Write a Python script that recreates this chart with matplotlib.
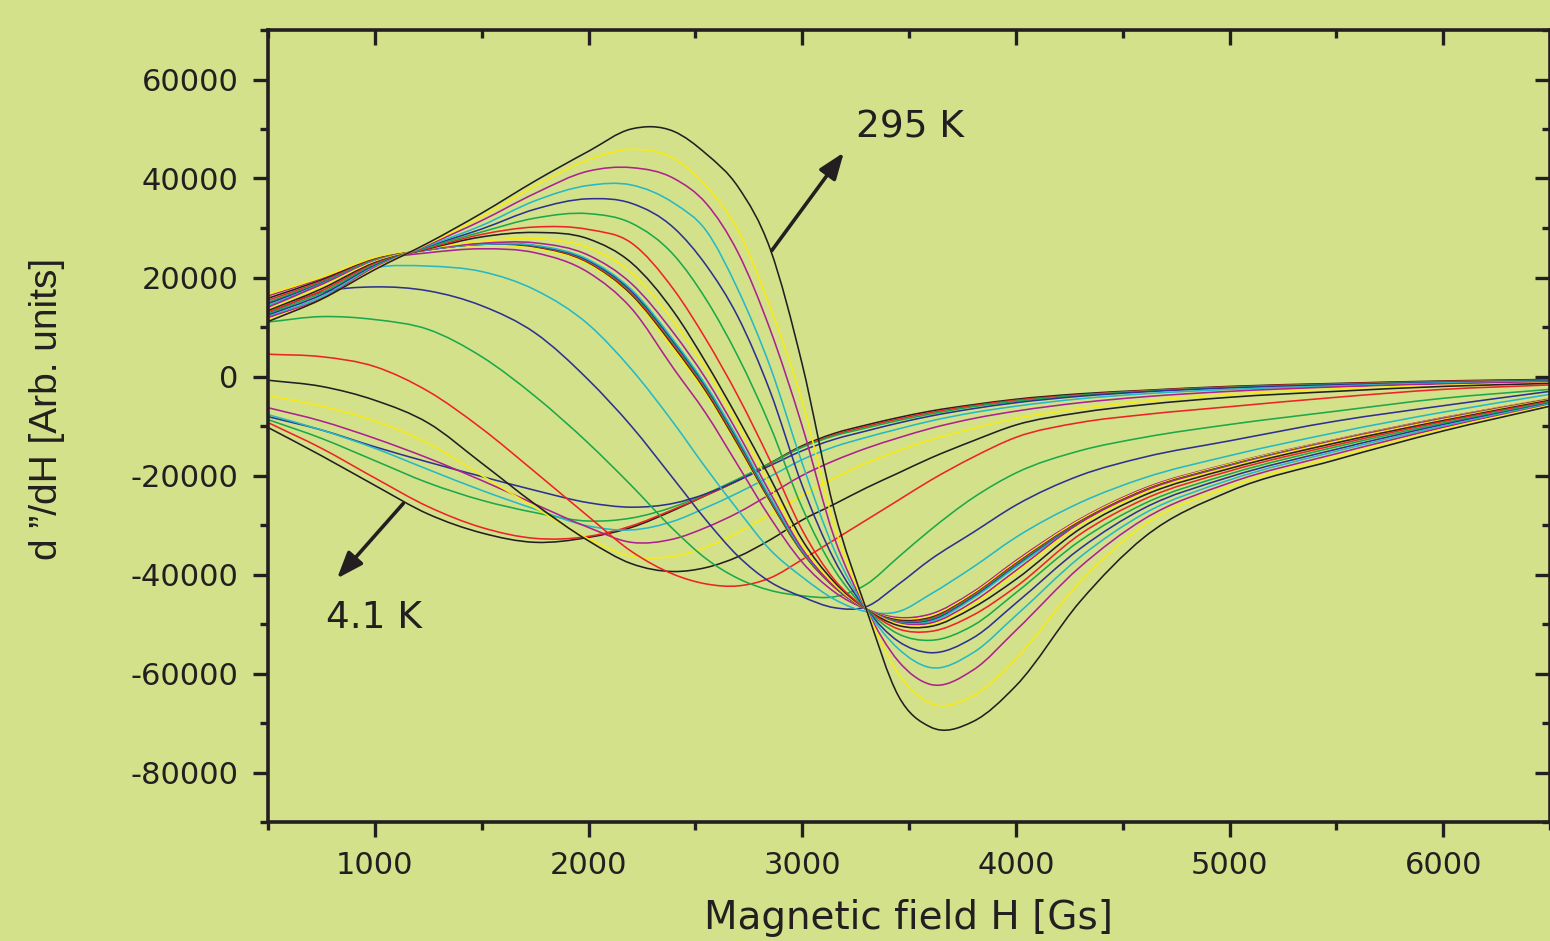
import matplotlib
matplotlib.use('Agg')
import matplotlib.pyplot as plt
from matplotlib.path import Path
from matplotlib.patches import PathPatch

plt.rcParams['axes.unicode_minus'] = False
plt.rcParams['font.family'] = ['DejaVu Sans']

# field grid [Gs], shared by all spectra
H = [500, 750, 1000, 1250, 1500, 1750, 2000, 2200, 2400, 2550, 2700, 2850,
     3000, 3150, 3300, 3450, 3600, 3800, 4000, 4300, 4600, 5000, 5500, 6000, 6500]

# spectra from 4.1 K (c01) up to 295 K (c29)
c01 = [-10300, -16000, -22000, -27800, -31600, -33500, -32500, -30500, -27000, -24000, -21000, -17500,
       -14000, -11500, -9800, -8300, -7000, -5700, -4600, -3500, -2800, -2000, -1400, -900, -600]
c02 = [-9300, -14500, -20500, -26300, -30500, -32700, -32300, -30200, -26800, -24000, -21000, -17600,
       -14200, -11800, -10100, -8600, -7300, -5900, -4800, -3700, -2900, -2100, -1500, -1000, -700]
c03 = [-8700, -12500, -17000, -21500, -25000, -27500, -29200, -28600, -26300, -23700, -20700, -17500,
       -14300, -12000, -10400, -8900, -7600, -6100, -5000, -3800, -3000, -2200, -1600, -1100, -800]
c04 = [-8100, -10800, -14200, -17300, -20200, -23000, -25500, -26400, -25600, -23700, -21000, -18000,
       -15000, -12700, -11000, -9400, -8000, -6500, -5300, -4000, -3100, -2300, -1700, -1200, -900]
c05 = [-7700, -10800, -14500, -18800, -23000, -26800, -30200, -31000, -29200, -26500, -23500, -20200,
       -16800, -14200, -12300, -10600, -9000, -7300, -6000, -4500, -3500, -2600, -1900, -1300, -1000]
c06 = [-6300, -9000, -12500, -16500, -21000, -25800, -30500, -33500, -32800, -30500, -27500, -23800,
       -20000, -17000, -14500, -12400, -10500, -8500, -7000, -5300, -4100, -3000, -2100, -1500, -1100]
c07 = [-3800, -6000, -9000, -13500, -20000, -26500, -32800, -36300, -36300, -34500, -31500, -27800,
       -24000, -20500, -17500, -15000, -12800, -10500, -8500, -6500, -5000, -3600, -2500, -1800, -1300]
c08 = [-750, -2000, -4800, -9400, -17500, -25800, -33200, -37800, -39400, -38600, -36400, -33000,
       -29000, -25800, -22500, -19500, -16500, -13000, -9800, -7300, -5700, -4200, -3000, -2000, -1400]
c09 = [4500, 4000, 2000, -3000, -10500, -19300, -28300, -35300, -40000, -41900, -42300, -40700,
       -37000, -33000, -29000, -25000, -21000, -16300, -12300, -9300, -7700, -6100, -4200, -2600, -1700]
c10 = [11000, 12100, 11500, 9500, 4000, -4000, -13500, -22000, -31000, -36800, -40800, -43200,
       -44300, -44500, -42000, -36500, -31000, -24500, -19500, -15000, -12300, -9700, -7000, -4400, -2600]
c11 = [12800, 17000, 18100, 17300, 14300, 8800, -700, -10000, -20800, -29000, -36300, -41500,
       -44500, -46700, -46500, -42000, -37000, -31500, -26000, -20000, -16300, -13000, -9000, -5900, -3000]
c12 = [13600, 18500, 22000, 22300, 21200, 17500, 10500, 1500, -9500, -18500, -27000, -35000,
       -40500, -45000, -47500, -47500, -44000, -38500, -32500, -25500, -20500, -16000, -11300, -7200, -3600]
c13 = [16300, 19800, 23500, 25000, 25800, 25000, 21000, 13800, 1500, -7500, -18000, -28500,
       -37500, -43500, -47000, -48700, -48000, -43500, -37200, -28800, -22600, -17600, -12700, -8300, -4500]
c14 = [16600, 20000, 24000, 25600, 26500, 25900, 22700, 16300, 5300, -3500, -14200, -25500,
       -35700, -42600, -47000, -49000, -48400, -43800, -37500, -29000, -22800, -17700, -12800, -8400, -4500]
c15 = [15800, 19500, 23700, 25600, 26700, 26200, 23000, 16600, 6000, -3000, -13800, -25200,
       -35500, -42500, -47000, -49200, -48700, -44100, -37800, -29300, -23000, -17900, -12900, -8500, -4600]
c16 = [15400, 19200, 23600, 25600, 26800, 26300, 23100, 16800, 6300, -2700, -13500, -25000,
       -35400, -42500, -47000, -49400, -48900, -44200, -37900, -29400, -23100, -18000, -12900, -8500, -4600]
c17 = [15000, 19000, 23500, 25600, 26800, 26400, 23300, 17100, 6600, -2400, -13200, -24800,
       -35300, -42400, -47000, -49500, -49100, -44400, -38100, -29500, -23200, -18000, -13000, -8600, -4700]
c18 = [14700, 18800, 23400, 25600, 26700, 26400, 23400, 17300, 6900, -2100, -12900, -24600,
       -35200, -42400, -47000, -49600, -49300, -44600, -38300, -29600, -23300, -18100, -13000, -8600, -4700]
c19 = [14300, 18700, 23400, 25600, 26700, 26500, 23600, 17600, 7200, -1800, -12600, -24400,
       -35100, -42300, -47000, -49700, -49500, -44800, -38500, -29700, -23400, -18100, -13000, -8600, -4700]
c20 = [14000, 18600, 23300, 25700, 26900, 27000, 24500, 18800, 8700, -500, -11500, -23500,
       -34800, -42300, -47000, -49800, -49800, -45500, -39200, -29600, -23200, -18100, -13000, -8600, -4700]
c21 = [13600, 18200, 23200, 25800, 27300, 27900, 26000, 21000, 11000, 1500, -9800, -22000,
       -34000, -42000, -47000, -50000, -50200, -46000, -39700, -30000, -23500, -18300, -13100, -8700, -4700]
c22 = [13300, 17700, 23000, 25800, 28200, 29100, 27800, 23000, 13000, 2800, -8500, -20500,
       -33000, -41500, -47000, -50300, -50500, -46700, -41000, -30800, -24000, -18600, -13400, -8900, -4800]
c23 = [13000, 17300, 22800, 25900, 28700, 30200, 29700, 27000, 17500, 7500, -4000, -17000,
       -31000, -41000, -47000, -51000, -51500, -48200, -42500, -31900, -24800, -19100, -13800, -9100, -5000]
c24 = [12700, 16900, 22600, 26100, 29200, 32000, 32900, 31000, 24500, 15600, 4000, -10000,
       -26500, -39000, -47000, -52000, -53300, -50300, -43700, -33200, -25700, -19700, -14200, -9400, -5200]
c25 = [12400, 16500, 22400, 26300, 29800, 33800, 35900, 35000, 30000, 22500, 12000, -3000,
       -22000, -37000, -47000, -53500, -55800, -52800, -45800, -34800, -26600, -20300, -14700, -9700, -5400]
c26 = [12100, 16100, 22200, 26400, 30500, 35500, 38600, 38700, 35000, 29500, 17500, 2000,
       -17500, -35000, -47000, -55000, -58800, -55800, -48300, -36500, -27700, -20900, -15100, -10000, -5500]
c27 = [11900, 15700, 22000, 26600, 31500, 37000, 41500, 42200, 40000, 35000, 25000, 9500,
       -10000, -32500, -47000, -57500, -62200, -59300, -51300, -38500, -28800, -21500, -15600, -10300, -5700]
c28 = [11500, 15500, 21800, 26800, 32300, 38500, 43800, 45900, 44000, 38500, 29500, 14000,
       -5000, -30000, -47000, -60000, -66000, -64500, -57000, -41500, -30000, -22300, -16200, -10600, -5800]
c29 = [11100, 15600, 21600, 27000, 33000, 39500, 45500, 50000, 49500, 45000, 38300, 25800,
       2500, -27000, -47000, -64500, -70800, -69700, -62500, -45500, -32500, -23200, -16800, -11000, -6000]

spectra = [c01, c02, c03, c04, c05, c06, c07, c08, c09, c10, c11, c12, c13, c14, c15,
           c16, c17, c18, c19, c20, c21, c22, c23, c24, c25, c26, c27, c28, c29]

# Origin-like colour cycle
cycle = ['#231f20', '#ee2326', '#1ca84b', '#2e3192', '#27b8c6', '#ad2190', '#f8ea14']
bg = '#d3e28a'
ink = '#231f20'


def smooth_path(xs, ys):
    # cubic Hermite connection of the read points, drawn as Bezier segments
    n = len(xs)
    m = []
    for i in range(n):
        if i == 0:
            m.append((ys[1] - ys[0]) / (xs[1] - xs[0]))
        elif i == n - 1:
            m.append((ys[-1] - ys[-2]) / (xs[-1] - xs[-2]))
        else:
            h0, h1 = xs[i] - xs[i - 1], xs[i + 1] - xs[i]
            d0, d1 = (ys[i] - ys[i - 1]) / h0, (ys[i + 1] - ys[i]) / h1
            m.append((d0 * h1 + d1 * h0) / (h0 + h1))
    verts = [(xs[0], ys[0])]
    codes = [Path.MOVETO]
    for i in range(n - 1):
        h = xs[i + 1] - xs[i]
        verts += [(xs[i] + h / 3, ys[i] + m[i] * h / 3),
                  (xs[i + 1] - h / 3, ys[i + 1] - m[i + 1] * h / 3),
                  (xs[i + 1], ys[i + 1])]
        codes += [Path.CURVE4] * 3
    return Path(verts, codes)


fig = plt.figure(figsize=(15.5, 9.41), dpi=100, facecolor=bg)
ax = fig.add_axes([268 / 1550, 1 - 822 / 941, 1 - 268 / 1550, (822 - 30) / 941])
ax.set_facecolor(bg)

for i, s in enumerate(spectra):
    ax.add_patch(PathPatch(smooth_path(H, s), fill=False,
                           edgecolor=cycle[i % len(cycle)], lw=1.15))

ax.set_xlim(500, 6500)
ax.set_ylim(-90000, 70000)
ax.set_xticks([1000, 2000, 3000, 4000, 5000, 6000])
ax.set_xticks(range(500, 6501, 500), minor=True)
ax.set_yticks(range(-80000, 60001, 20000))
ax.set_yticks(range(-90000, 70001, 10000), minor=True)

for sp in ax.spines.values():
    sp.set_color(ink)
    sp.set_linewidth(2.6)

ax.tick_params(which='both', direction='out', width=2.4, color=ink,
               labelsize=22, labelcolor=ink)
ax.tick_params(which='major', length=11)
ax.tick_params(which='minor', length=6)
ax.tick_params(axis='x', pad=10)
ax.tick_params(axis='y', pad=10)

# mirrored ticks on top and right, pointing inwards
top = ax.secondary_xaxis('top')
top.set_xticks([1000, 2000, 3000, 4000, 5000, 6000])
top.set_xticks(range(500, 6501, 500), minor=True)
top.tick_params(which='both', direction='in', width=2.4, color=ink, labeltop=False)
top.tick_params(which='major', length=11)
top.tick_params(which='minor', length=6)
right = ax.secondary_yaxis('right')
right.set_yticks(range(-80000, 60001, 20000))
right.set_yticks(range(-90000, 70001, 10000), minor=True)
right.tick_params(which='both', direction='in', width=2.4, color=ink, labelright=False)
right.tick_params(which='major', length=11)
right.tick_params(which='minor', length=6)
for sa in (top, right):
    for sp in sa.spines.values():
        sp.set_linewidth(0)

fig.text(908 / 1550, 1 - 918 / 941, 'Magnetic field H [Gs]', fontsize=28, color=ink,
         ha='center', va='center')
fig.text(47 / 1550, 1 - 409 / 941, 'd \u201d/dH [Arb. units]', fontsize=28, color=ink,
         ha='center', va='center', rotation=90, family=['Liberation Sans'])

arrow = dict(arrowstyle='-|>,head_length=1.6,head_width=0.6',
             color=ink, lw=2.6, shrinkA=0, shrinkB=0)
ax.annotate('', xy=(3195, 45250), xytext=(2858, 25450), arrowprops=arrow)
ax.text(3252, 50300, '295 K', fontsize=27, color=ink, ha='left', va='center')
ax.annotate('', xy=(823, -40800), xytext=(1133, -25660), arrowprops=arrow)
ax.text(772, -48700, '4.1 K', fontsize=27, color=ink, ha='left', va='center')

fig.savefig('out.png', dpi=100, facecolor=bg)
